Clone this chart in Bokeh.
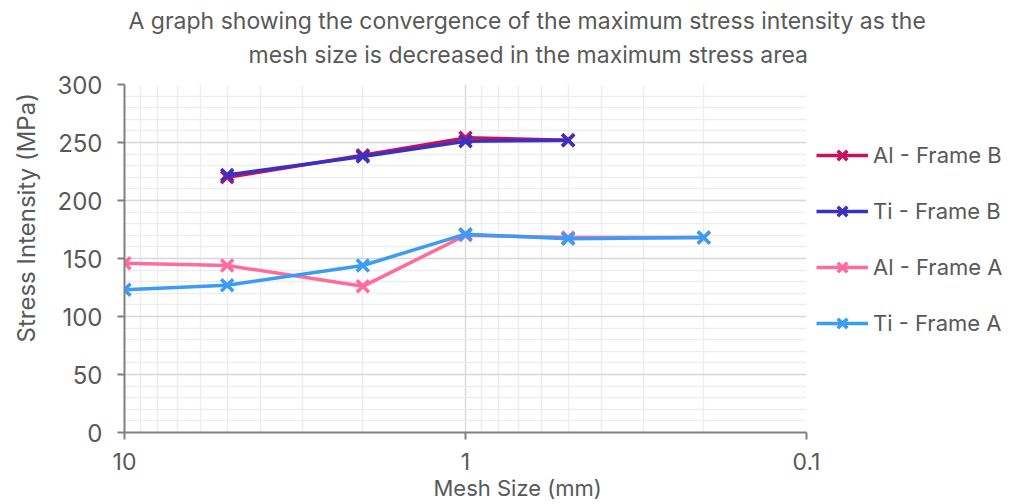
from bokeh.plotting import figure
from bokeh.models import Range1d, FixedTicker, Legend, LegendItem, Title
from bokeh.embed import file_html
from bokeh.resources import INLINE

# ---- data ----
mesh_b = [5, 2, 1, 0.5]
al_frame_b = [220, 239, 254, 252]
ti_frame_b = [222, 238, 251, 252]
mesh_a = [10, 5, 2, 1, 0.5, 0.2]
al_frame_a = [146, 144, 126, 170, 168, 168]
ti_frame_a = [123, 127, 144, 171, 167, 168]

series_names = ["Al - Frame B", "Ti - Frame B", "Al - Frame A", "Ti - Frame A"]
series_colors = ["#C8105E", "#3A32BE", "#FF6B9C", "#3A9CF6"]
x_ticks = [10, 1, 0.1]
x_tick_labels = {10: "10", 1: "1", 0.1: "0.1"}
y_ticks = [0, 50, 100, 150, 200, 250, 300]

title_line1 = "A graph showing the convergence of the maximum stress intensity as the"
title_line2 = "mesh size is decreased in the maximum stress area"
x_label = "Mesh Size (mm)"
y_label = "Stress Intensity (MPa)"

FONT = "Inter"
TXT = "#595959"

p = figure(frame_width=682, frame_height=348, x_axis_type="log",
           x_range=Range1d(10, 0.1), y_range=Range1d(0, 300),
           output_backend="svg", toolbar_location=None,
           min_border_left=124, min_border_right=189,
           min_border_top=84, min_border_bottom=20)
p.outline_line_color = None
p.background_fill_color = "white"
p.border_fill_color = "white"

# axes
minor_x = [m * 10 ** e for e in (0, -1) for m in range(2, 10)]
p.xaxis.ticker = FixedTicker(ticks=x_ticks, minor_ticks=minor_x)
p.xaxis.major_label_overrides = x_tick_labels
p.yaxis.ticker = FixedTicker(ticks=y_ticks,
                             minor_ticks=[v for v in range(0, 301, 10)])
for ax in (p.xaxis, p.yaxis):
    ax.axis_line_color = "#808080"
    ax.axis_line_width = 2
    ax.major_tick_line_color = "#808080"
    ax.major_tick_line_width = 2
    ax.major_tick_out = 7
    ax.major_tick_in = 0
    ax.minor_tick_line_color = None
    ax.major_label_text_font = FONT
    ax.major_label_text_color = TXT
p.yaxis.major_label_text_font_size = "24px"
p.xaxis.major_label_text_font_size = "23px"
p.yaxis.major_label_standoff = 15
p.xaxis.major_label_standoff = 13

# grids
p.xgrid.ticker = p.xaxis.ticker
p.ygrid.ticker = p.yaxis.ticker
p.xgrid.grid_line_color = "#D9D9D9"
p.ygrid.grid_line_color = "#D9D9D9"
p.xgrid.grid_line_width = 1.5
p.ygrid.grid_line_width = 1.5
p.xgrid.minor_grid_line_color = "#EDEDED"
p.ygrid.minor_grid_line_color = "#EDEDED"
p.xgrid.minor_grid_line_width = 1.5
p.ygrid.minor_grid_line_width = 1.5

# series
xs = [mesh_b, mesh_b, mesh_a, mesh_a]
ys = [al_frame_b, ti_frame_b, al_frame_a, ti_frame_a]
items = []
for name, col, x, y in zip(series_names, series_colors, xs, ys):
    l = p.line(x, y, line_color=col, line_width=3.5)
    s = p.scatter(x, y, marker="x", size=17, line_color=col, line_width=3.5)
    items.append(LegendItem(label=name, renderers=[l, s]))

legend = Legend(items=items, location=(10, 92), orientation="vertical",
                glyph_width=52, glyph_height=34, label_height=34,
                spacing=22, padding=0, margin=0, label_standoff=5,
                label_text_font=FONT, label_text_font_size="22px",
                label_text_color=TXT, border_line_color=None,
                background_fill_alpha=0)
p.add_layout(legend, "right")

def mk_title(text, offset, standoff, size, valign):
    return Title(text=text, align="left", offset=offset, standoff=standoff,
                 vertical_align=valign,
                 text_font=FONT, text_font_size=size, text_font_style="normal",
                 text_color=TXT)

# title lines (first added is nearest the frame)
p.add_layout(mk_title(title_line2, 124, 30, "23px", "middle"), "above")
p.add_layout(mk_title(title_line1, 4, -20, "23px", "bottom"), "above")
# axis labels
p.add_layout(mk_title(y_label, 90, 23, "24px", "top"), "left")
p.add_layout(mk_title(x_label, 309, 4, "22px", "top"), "below")

open("out.html", "w").write(file_html(p, INLINE))
